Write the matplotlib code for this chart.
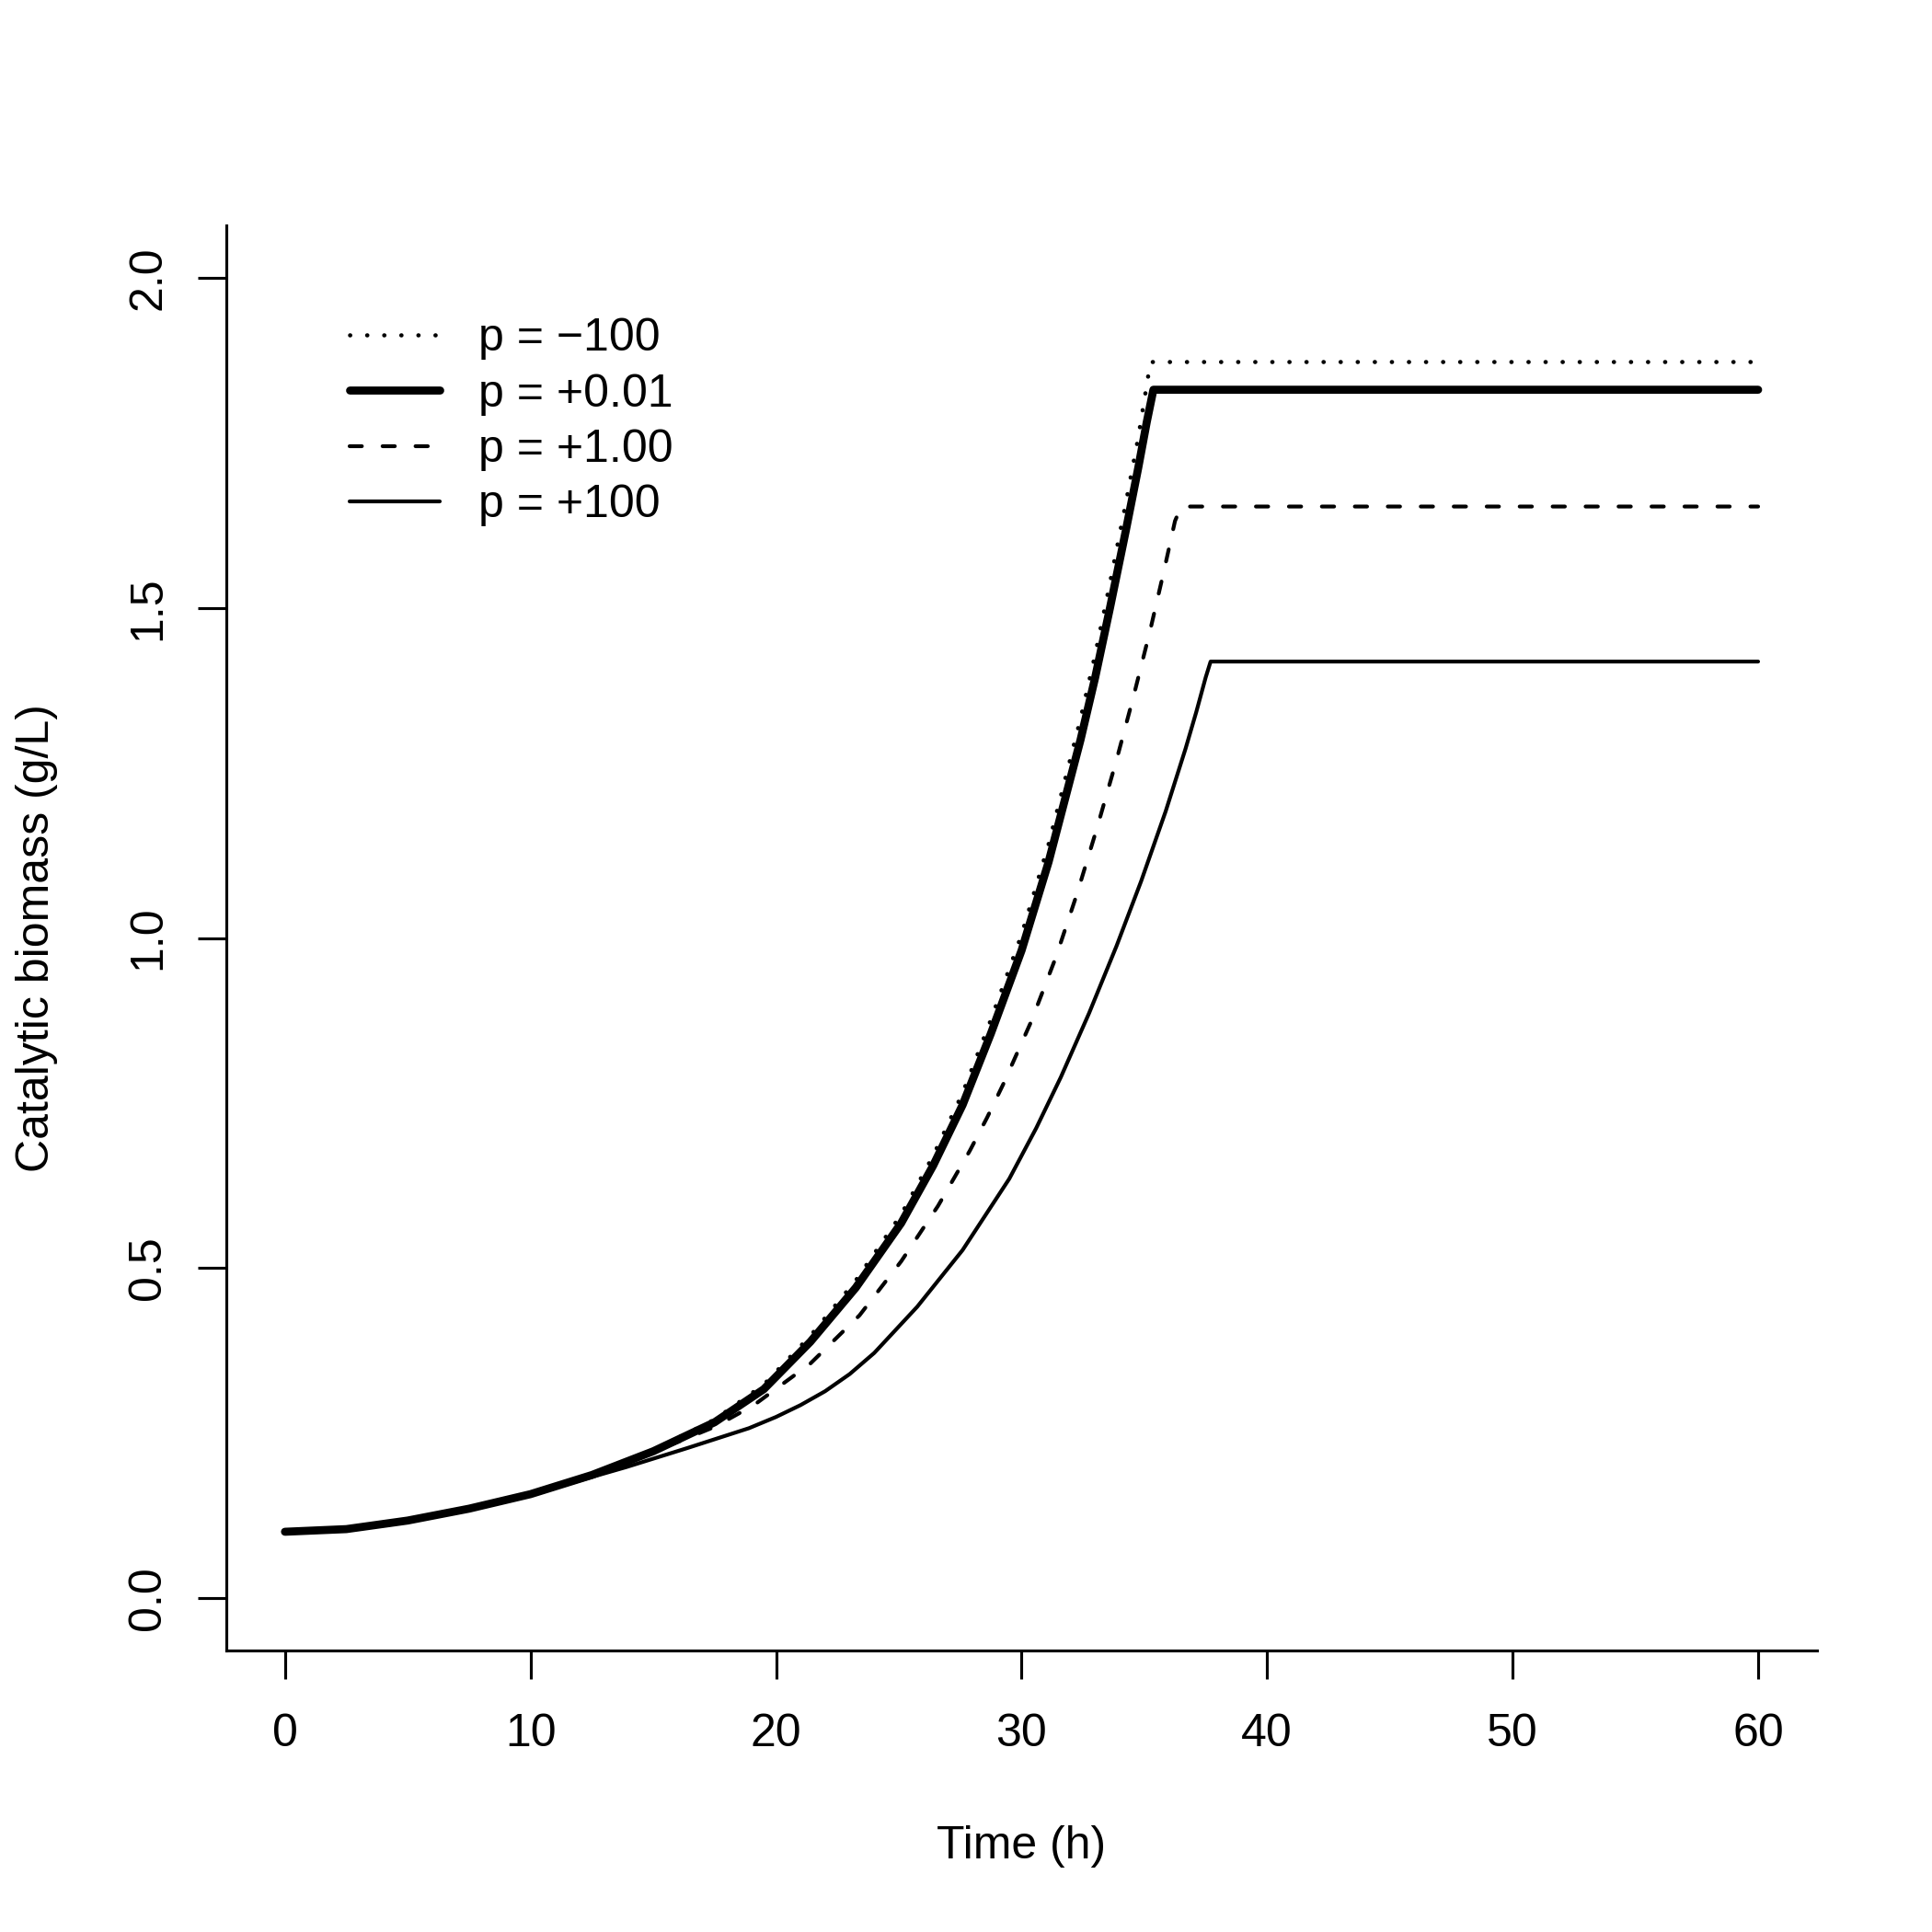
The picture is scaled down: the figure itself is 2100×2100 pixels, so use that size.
import matplotlib
matplotlib.use("Agg")
import matplotlib.pyplot as plt

plt.rcParams['font.family'] = ['Liberation Sans', 'DejaVu Sans']

# p = -100 (dotted)
t_m100 = [0, 2.5, 5, 7.5, 10, 12.5, 15, 17.5, 19.5, 21.4, 23.25, 25.1, 26.4, 27.6,
          28.75, 30.0, 31.1, 32.4, 33.0, 33.6, 34.25, 34.75, 35.25, 60]
y_m100 = [0.100, 0.104, 0.117, 0.135, 0.158, 0.187, 0.224, 0.270, 0.323, 0.397, 0.481,
          0.581, 0.670, 0.765, 0.876, 1.005, 1.142, 1.332, 1.430, 1.538, 1.660, 1.758,
          1.873, 1.873]

# p = +0.01 (thick)
t_001 = [0, 2.5, 5, 7.5, 10, 12.5, 15, 17.5, 19.5, 21.4, 23.25, 25.1, 26.4, 27.6,
         28.75, 30.0, 31.1, 32.4, 33.0, 33.6, 34.25, 34.75, 35.1, 35.37, 60]
y_001 = [0.100, 0.104, 0.117, 0.135, 0.157, 0.186, 0.222, 0.266, 0.316, 0.388, 0.470,
         0.568, 0.655, 0.747, 0.855, 0.981, 1.115, 1.300, 1.395, 1.500, 1.618, 1.712,
         1.782, 1.831, 1.831]

# p = +1.00 (dashed)
t_1 = [0, 2.5, 5, 7.5, 10, 12.5, 15, 17.5, 19.1, 21.4, 23.4, 25.1, 26.6, 27.9, 28.6,
       29.25, 30.4, 31.4, 32.25, 33.06, 33.87, 34.56, 35.25, 35.81, 36.25, 36.5, 60]
y_1 = [0.100, 0.104, 0.117, 0.135, 0.157, 0.186, 0.221, 0.259, 0.292, 0.355, 0.428,
       0.510, 0.594, 0.678, 0.728, 0.778, 0.874, 0.971, 1.066, 1.165, 1.270, 1.366,
       1.468, 1.558, 1.632, 1.654, 1.654]

# p = +100 (thin solid)
t_100 = [0, 2.5, 5, 7.5, 10, 12.5, 13.9, 16.4, 18.9, 20.0, 21.0, 22.0, 23.0, 24.0,
         25.75, 27.6, 29.5, 30.6, 31.6, 32.75, 33.87, 34.87, 35.87, 36.68, 37.12, 37.5,
         37.7, 60]
y_100 = [0.100, 0.104, 0.117, 0.135, 0.156, 0.183, 0.198, 0.227, 0.257, 0.274, 0.292,
         0.313, 0.339, 0.371, 0.441, 0.527, 0.635, 0.712, 0.789, 0.886, 0.988, 1.086,
         1.192, 1.287, 1.343, 1.395, 1.419, 1.419]

labels = ["p = \u2212100", "p = +0.01", "p = +1.00", "p = +100"]
xticks = [0, 10, 20, 30, 40, 50, 60]
yticks = [0.0, 0.5, 1.0, 1.5, 2.0]

fig = plt.figure(figsize=(7, 7), dpi=300)
ax = fig.add_axes([0.117, 0.1457, 0.9405 - 0.117, 0.8833 - 0.1457])

ax.plot(t_m100, y_m100, color='black', lw=1.1, dashes=(0.05, 4.0),
        dash_capstyle='round', label=labels[0])
ax.plot(t_001, y_001, color='black', lw=2.1, solid_capstyle='round',
        solid_joinstyle='round', label=labels[1])
ax.plot(t_1, y_1, color='black', lw=1.0, dashes=(3.2, 5.4),
        dash_capstyle='round', label=labels[2])
ax.plot(t_100, y_100, color='black', lw=1.0, solid_capstyle='round',
        solid_joinstyle='round', label=labels[3])

ax.set_xlim(-2.4, 62.4)
ax.set_ylim(-0.08, 2.08)
ax.set_xticks(xticks)
ax.set_yticks(yticks)
ax.set_xticklabels([str(v) for v in xticks])
ax.set_yticklabels(["%.1f" % v for v in yticks], rotation=90, va='center')

for s in ['top', 'right']:
    ax.spines[s].set_visible(False)
for s in ['left', 'bottom']:
    ax.spines[s].set_linewidth(0.75)
ax.tick_params(direction='out', length=7.4, width=0.75, labelsize=12, colors='black')
ax.tick_params(axis='x', pad=8.8)
ax.tick_params(axis='y', pad=7.3)

fig.text(1110 / 2100, 1 - 2007 / 2100, "Time (h)", ha='center', va='center', fontsize=12)
fig.text(40 / 2100, 1 - 1020 / 2100, "Catalytic biomass (g/L)", ha='center', va='center',
         rotation=90, fontsize=12)

leg = ax.legend(loc='upper left', bbox_to_anchor=(380 / 2100, 1 - 345 / 2100),
                bbox_transform=fig.transFigure, frameon=False, fontsize=12,
                handlelength=1.95, handletextpad=0.85, labelspacing=0.29,
                borderpad=0, borderaxespad=0)

fig.savefig("out.png", dpi=300)
